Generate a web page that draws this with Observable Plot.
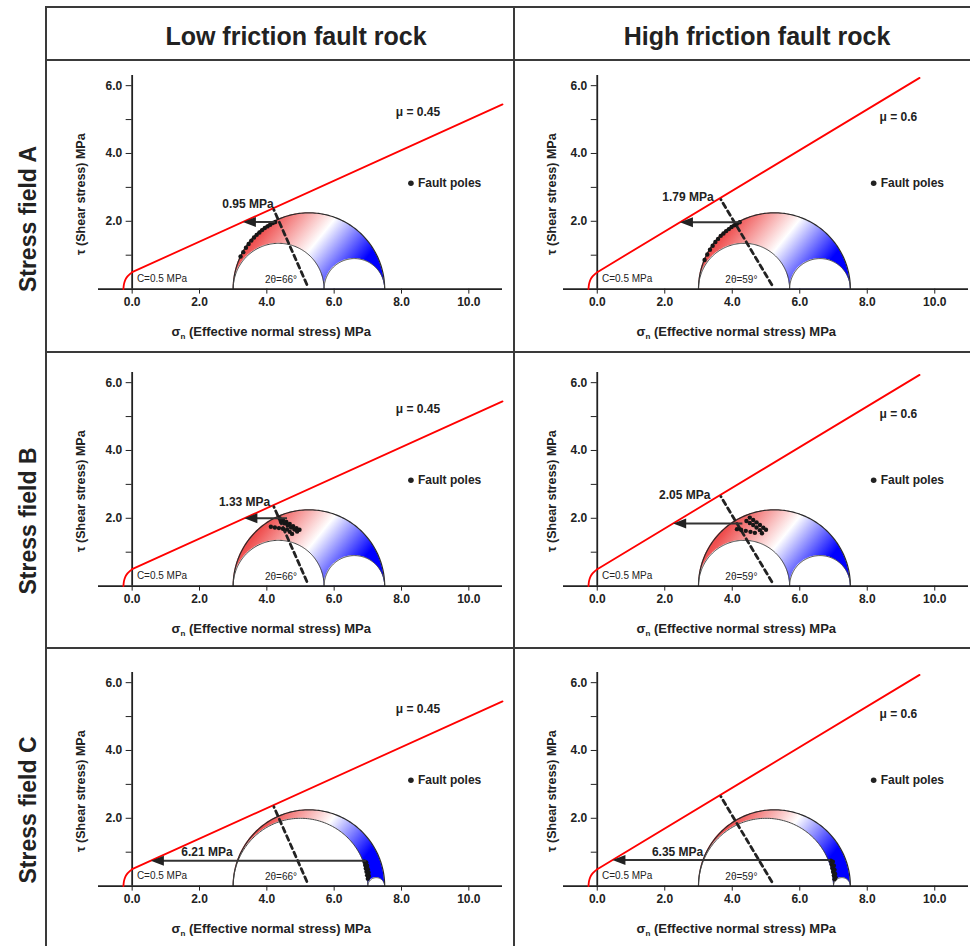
<!DOCTYPE html>
<html><head><meta charset="utf-8">
<script src="https://cdn.jsdelivr.net/npm/d3@7"></script>
<script src="https://cdn.jsdelivr.net/npm/@observablehq/plot@0.6"></script>
<style>
html,body{margin:0;padding:0;background:#fff;width:970px;height:946px;overflow:hidden;font-family:"Liberation Sans",Arial,sans-serif;}
#root{position:relative;width:970px;height:946px;}
.cell{position:absolute;}
.bline{position:absolute;background:#3a3a3a;z-index:5;}
.hdr{position:absolute;font-weight:bold;font-size:25px;color:#222;white-space:nowrap;transform:translate(-50%,-50%);}
.rowlab{position:absolute;font-weight:bold;font-size:23px;color:#222;white-space:nowrap;transform:translate(-50%,-50%) rotate(-90deg);}
</style></head><body><div id="root"></div>
<script>
// ---------- data ----------
const columnTitles = ["Low friction fault rock", "High friction fault rock"];
const rowTitles = ["Stress field A", "Stress field B", "Stress field C"];
const cohesion = 0.5;
const cohesionLabel = "C=0.5 MPa";
const frictionCoefficients = [0.45, 0.6];
const frictionLabels = ["μ = 0.45", "μ = 0.6"];
const twoThetaDeg = [66, 59];
const twoThetaLabels = ["2θ=66°", "2θ=59°"];
const sigma1 = [7.5, 7.5, 7.5];
const sigma2 = [5.7, 5.7, 7.0];
const sigma3 = [3.0, 3.0, 3.0];
const xTicks = [0, 2, 4, 6, 8, 10];
const yTicks = [1, 2, 3, 4, 5, 6];
const xLabel = "σn (Effective normal stress) MPa";
const yLabel = "τ (Shear stress) MPa";
const legendLabel = "Fault poles";
// tension-cutoff toe of the failure envelope (σn, τ)
const envelopeToe = [[-0.26, 0], [-0.245, 0.14], [-0.21, 0.26], [-0.15, 0.36], [-0.07, 0.44], [0, 0.5]];
const envelopeEnd = [11.0, 9.55];
const slipLabels = [["0.95 MPa", "1.79 MPa"], ["1.33 MPa", "2.05 MPa"], ["6.21 MPa", "6.35 MPa"]];
const criticalPoles = [[[4.24, 1.98], [4.24, 1.97]], [[4.6, 2.0], [4.3, 1.85]], [[6.95, 0.75], [6.9, 0.77]]];
const slipLabelPos = [[[3.44, 2.50], [2.69, 2.70]], [[3.34, 2.49], [2.59, 2.68]], [[2.22, 1.01], [2.38, 1.01]]];
const muLabelPos = [[8.49, 5.22], [8.92, 5.08]];
const legendPos = [[8.28, 3.12], [8.19, 3.12]];
const thetaLabelPos = [[4.42, 0.27], [4.27, 0.26]];
const cohesionLabelPos = [0.14, 0.3];
const faultPoles = [
  [
    [[3.22,0.96],[3.30,1.09],[3.38,1.22],[3.46,1.33],[3.54,1.43],[3.62,1.52],[3.70,1.60],[3.78,1.67],[3.86,1.74],[3.94,1.80],[4.02,1.85],[4.10,1.90],[4.18,1.95],[4.25,1.98]],
    [[3.18,0.86],[3.26,1.02],[3.34,1.16],[3.42,1.28],[3.50,1.39],[3.58,1.48],[3.66,1.57],[3.74,1.64],[3.82,1.71],[3.90,1.77],[3.98,1.83],[4.06,1.88],[4.14,1.93],[4.22,1.97]]
  ],
  [
    [[4.38,2.00],[4.48,1.95],[4.58,1.89],[4.68,1.83],[4.78,1.77],[4.88,1.71],[4.97,1.66],[4.42,1.90],[4.52,1.85],[4.62,1.79],[4.72,1.73],[4.82,1.67],[4.90,1.61],[4.12,1.75],[4.24,1.73],[4.36,1.71],[4.48,1.69],[4.60,1.67],[4.68,1.60],[4.75,1.54]],
    [[4.52,2.02],[4.62,1.95],[4.72,1.88],[4.82,1.80],[4.92,1.72],[5.00,1.66],[4.42,1.92],[4.52,1.86],[4.62,1.80],[4.72,1.73],[4.82,1.65],[4.88,1.56],[4.14,1.68],[4.26,1.66],[4.40,1.63],[4.54,1.60],[4.67,1.57]]
  ],
  [
    [[6.90,0.72],[6.92,0.62],[6.94,0.52],[6.96,0.42],[6.98,0.32],[7.00,0.22],[6.95,0.70],[6.98,0.60],[7.00,0.50],[7.02,0.40],[7.03,0.30]],
    [[6.92,0.75],[6.95,0.64],[6.97,0.53],[6.99,0.42],[7.01,0.31],[7.03,0.20],[6.98,0.72],[7.01,0.60],[7.03,0.48],[7.05,0.36],[7.06,0.25]]
  ]
];

// ---------- layout ----------
const axisPixelY = [288.7, 586, 886];
const colLeft = [46, 514];
const colWidth = [468, 456];
const colMargins = [[52, 12], [49, 2]];
const H = 300, MT = 15, MB = 71.4;
const yTitleDx = [-18, -11.5];

const arrowHead = {draw(ctx) { ctx.moveTo(0, 0); ctx.lineTo(13, -5); ctx.lineTo(13, 5); ctx.closePath(); }};

function semicircle(a, b) {
  const cx = (a + b) / 2, rr = (b - a) / 2;
  return d3.range(0, 121).map(i => {
    const ang = Math.PI * (1 - i / 120);
    return {s: cx + rr * Math.cos(ang), t: rr * Math.sin(ang)};
  });
}

function panel(r, c) {
  const W = colWidth[c];
  const [mL, mR] = colMargins[c];
  const unit = (W - mL - mR) / 12;
  const mu = frictionCoefficients[c];
  const s1 = sigma1[r], s2 = sigma2[r], s3 = sigma3[r];
  const outer = semicircle(s3, s1), inL = semicircle(s3, s2), inR = semicircle(s2, s1);
  const center = (s1 + s3) / 2;
  const ang = twoThetaDeg[c] * Math.PI / 180;
  const dir = [-Math.cos(ang), Math.sin(ang)];
  const tHit = (cohesion + mu * center) / (Math.sin(ang) + mu * Math.cos(ang));
  const dash = [{s: center + 0.15 * dir[0], t: 0.15 * dir[1]}, {s: center + (tHit - 0.05) * dir[0], t: (tHit - 0.05) * dir[1]}];
  const [ps, pt] = criticalPoles[r][c];
  const hitS = (pt - cohesion) / mu;
  const gid = `grad${r}${c}`;
  const envLine = [{s: 0, t: cohesion}, {s: envelopeEnd[c], t: cohesion + mu * envelopeEnd[c]}];

  const defsMark = (index, scales) => {
    const ns = "http://www.w3.org/2000/svg";
    const defs = document.createElementNS(ns, "defs");
    const g = document.createElementNS(ns, "linearGradient");
    g.setAttribute("id", gid);
    g.setAttribute("gradientUnits", "userSpaceOnUse");
    g.setAttribute("x1", scales.x(4.0)); g.setAttribute("y1", scales.y(2.6));
    g.setAttribute("x2", scales.x(7.0)); g.setAttribute("y2", scales.y(0.2));
    [[0, "#ec3a3a"], [0.12, "#ef4e4e"], [0.5, "#ffffff"], [0.88, "#0000ff"], [1, "#0000ff"]].forEach(([o, col]) => {
      const st = document.createElementNS(ns, "stop");
      st.setAttribute("offset", o); st.setAttribute("stop-color", col);
      g.appendChild(st);
    });
    defs.appendChild(g);
    return defs;
  };

  const svg = Plot.plot({
    width: W, height: H,
    marginLeft: mL, marginRight: mR, marginTop: MT, marginBottom: MB,
    x: {domain: [-1, 11]},
    y: {domain: [0, 6.3]},
    style: {background: "transparent", overflow: "visible", fontFamily: "Liberation Sans, Arial, sans-serif", fontSize: "12px", fontWeight: "bold", color: "#222"},
    marks: [
      defsMark,
      Plot.areaY(outer, {x: "s", y: "t", fill: `url(#${gid})`}),
      Plot.areaY(inL, {x: "s", y: "t", fill: "white"}),
      Plot.areaY(inR, {x: "s", y: "t", fill: "white"}),
      Plot.line(outer, {x: "s", y: "t", stroke: "#2a2a2a", strokeWidth: 1.2}),
      Plot.line(inL, {x: "s", y: "t", stroke: "#444", strokeWidth: 1}),
      Plot.line(inR, {x: "s", y: "t", stroke: "#444", strokeWidth: 1}),
      Plot.ruleY([0], {stroke: "#222", strokeWidth: 1.8}),
      Plot.ruleX([0], {y1: 0, y2: 6.3, stroke: "#222", strokeWidth: 1.8}),
      Plot.axisX({ticks: xTicks, tickFormat: d => d.toFixed(1), tickSize: 5, tickPadding: 3, label: null, color: "#222"}),
      Plot.axisY({ticks: yTicks, tickFormat: d => d % 2 === 0 ? d.toFixed(1) : "", tickSize: 6, tickPadding: 4, dx: unit, label: null, color: "#222"}),
      Plot.line(envelopeToe, {x: d => d[0], y: d => d[1], stroke: "#ff0000", strokeWidth: 1.8, curve: "catmull-rom"}),
      Plot.line(envLine, {x: "s", y: "t", stroke: "#ff0000", strokeWidth: 1.8}),
      Plot.line(dash, {x: "s", y: "t", stroke: "#222", strokeWidth: 2.8, strokeDasharray: "5,4"}),
      Plot.dot(faultPoles[r][c], {x: d => d[0], y: d => d[1], r: 2.2, fill: "#161616"}),
      Plot.link([0], {x1: ps, x2: hitS + 0.3, y1: pt, y2: pt, stroke: "#333", strokeWidth: 2}),
      Plot.dot([[hitS, pt]], {x: d => d[0], y: d => d[1], symbol: arrowHead, fill: "#222", stroke: "none"}),
      Plot.text([slipLabels[r][c]], {x: [slipLabelPos[r][c][0]], y: [slipLabelPos[r][c][1]], text: d => d, fontSize: 12, fontWeight: "bold"}),
      Plot.text([frictionLabels[c]], {x: [muLabelPos[c][0]], y: [muLabelPos[c][1]], text: d => d, fontSize: 12, fontWeight: "bold"}),
      Plot.dot([legendPos[c]], {x: d => d[0], y: d => d[1], r: 2.8, fill: "#222"}),
      Plot.text([legendLabel], {x: [legendPos[c][0]], y: [legendPos[c][1]], text: d => d, dx: 7, textAnchor: "start", fontSize: 12, fontWeight: "bold"}),
      Plot.text([twoThetaLabels[c]], {x: [thetaLabelPos[c][0]], y: [thetaLabelPos[c][1]], text: d => d, fontSize: 10, fontWeight: "normal"}),
      Plot.text([cohesionLabel], {x: [cohesionLabelPos[0]], y: [cohesionLabelPos[1]], text: d => d, textAnchor: "start", fontSize: 10, fontWeight: "normal"}),
      Plot.text([xLabel], {x: [c === 0 ? 4.13 : 4.12], y: [0], dy: 43, text: d => d, fontSize: 13, fontWeight: "bold"}),
      Plot.text([yLabel], {frameAnchor: "left", y: [2.8], dx: yTitleDx[c], rotate: -90, textAnchor: "middle", lineAnchor: "middle", text: d => d, fontSize: 12.5, fontWeight: "bold"})
    ]
  });
  // subscript n on the σ label
  svg.querySelectorAll("text").forEach(t => {
    if (t.textContent === xLabel) {
      const ns = "http://www.w3.org/2000/svg";
      t.textContent = "σ";
      const sub = document.createElementNS(ns, "tspan");
      sub.setAttribute("dy", "3"); sub.setAttribute("font-size", "8"); sub.textContent = "n";
      const rest = document.createElementNS(ns, "tspan");
      rest.setAttribute("dy", "-3"); rest.textContent = " (Effective normal stress) MPa";
      t.appendChild(sub); t.appendChild(rest);
    }
  });
  return svg;
}

const root = document.getElementById("root");
for (let r = 0; r < 3; r++) {
  for (let c = 0; c < 2; c++) {
    const div = document.createElement("div");
    div.className = "cell";
    div.style.left = colLeft[c] + "px";
    div.style.top = (axisPixelY[r] - (H - MB)) + "px";
    div.appendChild(panel(r, c));
    root.appendChild(div);
  }
}
// table lines
function bline(x, y, w, h) {
  const d = document.createElement("div");
  d.className = "bline";
  Object.assign(d.style, {left: x + "px", top: y + "px", width: w + "px", height: h + "px"});
  root.appendChild(d);
}
bline(45, 6, 925, 2);
bline(45, 59, 925, 2);
bline(45, 351, 925, 2);
bline(45, 647, 925, 2);
bline(45, 6, 2, 940);
bline(513, 6, 2, 940);
// headers
const hdrCenters = [296, 757];
columnTitles.forEach((t, i) => {
  const d = document.createElement("div");
  d.className = "hdr"; d.textContent = t;
  d.style.left = hdrCenters[i] + "px"; d.style.top = "36px";
  root.appendChild(d);
});
const rowCenters = [219, 521, 810];
rowTitles.forEach((t, i) => {
  const d = document.createElement("div");
  d.className = "rowlab"; d.textContent = t;
  d.style.left = "28px"; d.style.top = rowCenters[i] + "px";
  root.appendChild(d);
});
</script></body></html>
